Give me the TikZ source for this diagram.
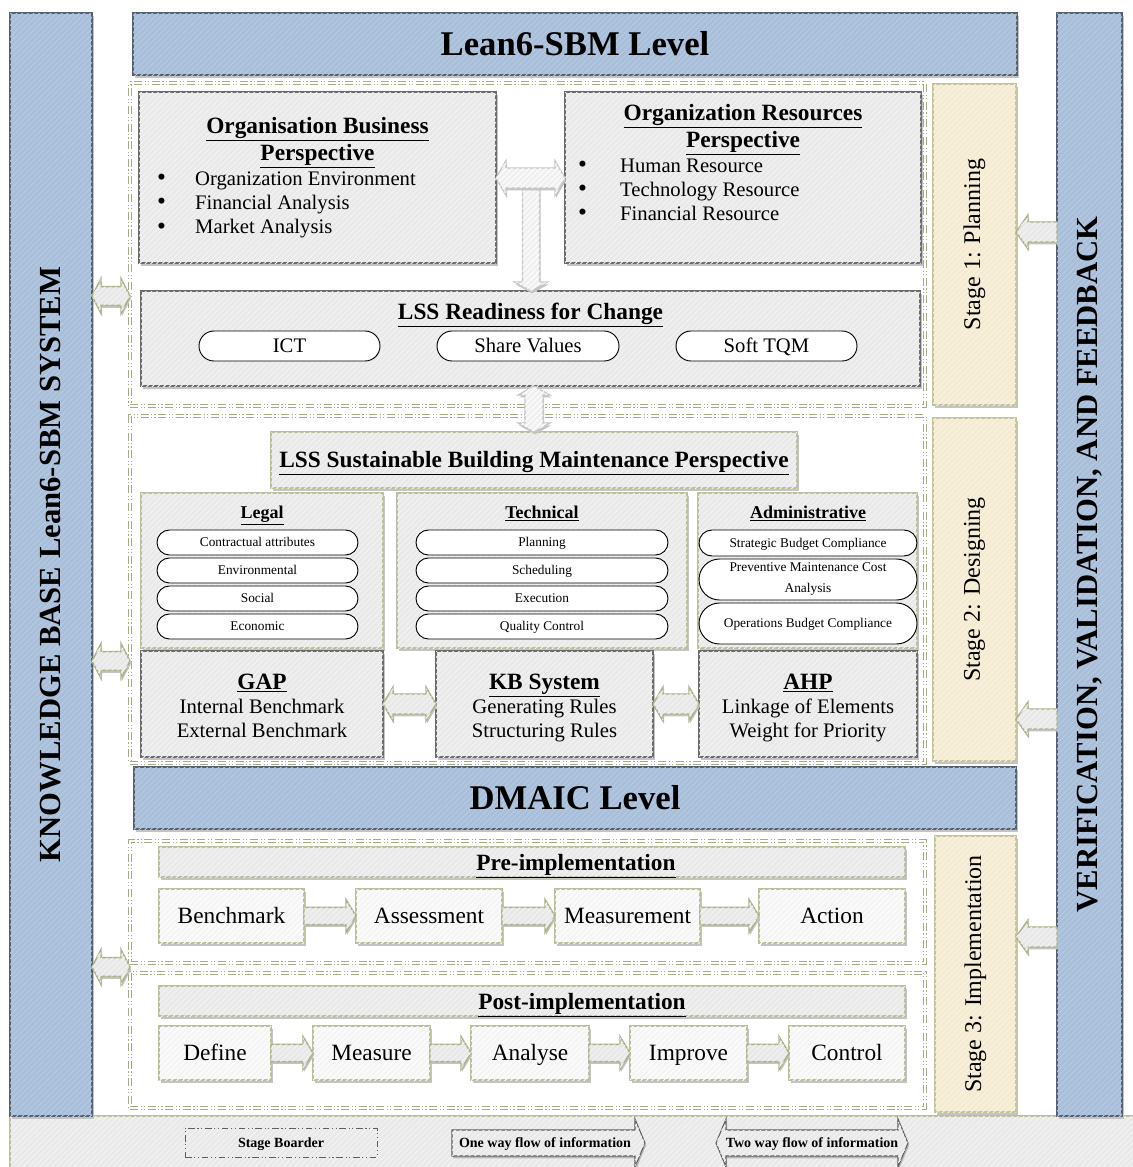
\documentclass[tikz,border=0pt]{standalone}
\usepackage{fontspec}
\setmainfont{Liberation Serif}
\usetikzlibrary{calc,shadows,patterns.meta,shapes.misc}

\definecolor{bluefill}{HTML}{A8BED9}
\definecolor{bluestripe}{HTML}{B7CBE3}
\definecolor{bluebd}{HTML}{56616D}
\definecolor{grayfill}{HTML}{E9E9E9}
\definecolor{graystripe}{HTML}{F4F4F4}
\definecolor{darkbd}{HTML}{6B6B6B}
\definecolor{olivebd}{HTML}{BDBF9C}
\definecolor{yelfill}{HTML}{F4EBD2}
\definecolor{yelstripe}{HTML}{FAF3E1}
\definecolor{yelbd}{HTML}{C3C39C}
\definecolor{stagebd}{HTML}{A7AA82}
\definecolor{arrowfill}{HTML}{E8E8E8}
\definecolor{arrowbd}{HTML}{ADB189}
\definecolor{shadowc}{HTML}{C4C4C4}
\definecolor{rowfill}{HTML}{F5F5F5}
\definecolor{legbd}{HTML}{5E5E5E}

\newcommand\fsz[2]{\fontsize{#1}{#2}\selectfont}
\newcommand\bulmark[1]{\makebox[#1][l]{\raisebox{-0.6pt}{\fsz{19}{19}\textbullet}}}

% block arrow from #2 to #3: shaft half-width #4, head half-width #5, head length #6
\newcommand\onewayarrow[6]{%
  \coordinate (owQ) at ($#3!#6!#2$);
  \path[#1] ($#2!#4!90:#3$) -- ($(owQ)!#4!90:#3$) -- ($(owQ)!#5!90:#3$) -- #3
    -- ($(owQ)!#5!-90:#3$) -- ($(owQ)!#4!-90:#3$) -- ($#2!#4!-90:#3$) -- cycle;
}
\newcommand\twowayarrow[6]{%
  \coordinate (twP) at ($#2!#6!#3$);
  \coordinate (twQ) at ($#3!#6!#2$);
  \path[#1] #2 -- ($(twP)!#5!90:#3$) -- ($(twP)!#4!90:#3$) -- ($(twQ)!#4!90:#3$)
    -- ($(twQ)!#5!90:#3$) -- #3 -- ($(twQ)!#5!-90:#3$) -- ($(twQ)!#4!-90:#3$)
    -- ($(twP)!#4!-90:#3$) -- ($(twP)!#5!-90:#3$) -- cycle;
}

\tikzset{
  % rectangle spanning the corners (#1,#2) and (#3,#4)
  box/.style n args={4}{at={({(#1+#3)/2},{(#2+#4)/2})},anchor=center,
    inner sep=0pt,outer sep=0pt,
    minimum width={(#3-#1)*0.75pt},minimum height={(#4-#2)*0.75pt}},
  % centre a single line on its capital height (#1 = cap height)
  oneline/.style={text height=#1,text depth=0pt},
  hatch/.style={postaction={pattern={Lines[angle=45,distance=3pt,line width=0.7pt]},pattern color=#1}},
  boxshadow/.style={drop shadow={shadow xshift=1.2pt,shadow yshift=-2pt,fill=shadowc,opacity=1}},
  bluebar/.style={draw=bluebd,line width=1.1pt,fill=bluefill,hatch=bluestripe,boxshadow},
  topbox/.style={draw=darkbd,line width=1.1pt,fill=grayfill,hatch=graystripe,boxshadow},
  olbox/.style={draw=olivebd,line width=1.1pt,fill=grayfill,hatch=graystripe,boxshadow},
  rowbox/.style={draw=olivebd,line width=1.1pt,fill=rowfill,hatch=white,boxshadow,font=\fsz{17.5}{20},oneline=11.6pt},
  stagebox/.style={draw=yelbd,line width=1.1pt,fill=yelfill,hatch=yelstripe,boxshadow},
  stageb/.style={draw=stagebd,line width=0.6pt,double=white,double distance=1.3pt,
    dash pattern=on 6pt off 2pt on 0.8pt off 1.6pt on 0.8pt off 2pt},
  pill/.style={rounded rectangle,draw=black,line width=0.7pt,fill=white},
  bigpill/.style={pill,font=\fsz{15.5}{18},oneline=10.2pt},
  smallpill/.style={pill,font=\fsz{10}{15.75},oneline=6.6pt},
  twolinepill/.style={pill,font=\fsz{10}{15.75},align=center},
  legpanel/.style={draw=olivebd,line width=1.1pt,fill=grayfill,hatch=graystripe},
  legrect/.style={draw=legbd,line width=0.7pt,dash pattern=on 5pt off 2pt on 0.8pt off 2pt on 0.8pt off 2pt,font=\bfseries\fsz{10.5}{12},oneline=6.9pt},
  olarrow/.style={draw=arrowbd,line width=1.1pt,fill=arrowfill,hatch=graystripe,
    drop shadow={shadow xshift=0.8pt,shadow yshift=-1.8pt,fill=shadowc,opacity=1}},
  grarrow/.style={draw=gray!45,line width=0.9pt,fill=gray!12,hatch=white,
    drop shadow={shadow xshift=0.8pt,shadow yshift=-1.8pt,fill=shadowc,opacity=1}},
  legarrow/.style={draw=legbd,line width=0.8pt,fill=grayfill,hatch=graystripe,
    drop shadow={shadow xshift=0.8pt,shadow yshift=-1.8pt,fill=gray!55,opacity=1}},
  bartitle/.style={font=\bfseries\fsz{26}{30},oneline=17.2pt},
  sidetitle/.style={font=\bfseries\fsz{23}{26},rotate=90},
  stagetext/.style={font=\fsz{18}{20},rotate=90},
  ttl/.style={anchor=base,font=\bfseries\fsz{17.5}{20}},
  subttl/.style={anchor=base,font=\bfseries\fsz{13.5}{16}},
  line/.style={anchor=base,font=\fsz{15.5}{18}},
  bul/.style={anchor=base west,font=\fsz{15.5}{18}},
  legtext/.style={font=\bfseries\fsz{10.5}{12},oneline=6.9pt},
}

\begin{document}
\begin{tikzpicture}[x=0.75pt,y=-0.75pt]
\useasboundingbox (0,0) rectangle (1132,1167);

% legend strip along the bottom
\node[legpanel,box={10}{1116}{1140}{1175}] (legend) {};

% outer bars
\node[bluebar,box={10}{13}{92}{1116}] (kbar) {};
\node[sidetitle] (kbartext) at (kbar.center) {KNOWLEDGE BASE Lean6-SBM SYSTEM};
\node[bluebar,box={1057}{13}{1122}{1116}] (vbar) {};
\node[sidetitle] (vbartext) at (vbar.center) {VERIFICATION, VALIDATION, AND FEEDBACK};
\node[bluebar,bartitle,box={133}{13}{1017}{75}] (lean) {Lean6-SBM Level};
\node[bluebar,bartitle,box={134}{767}{1016}{829}] (dmaic) {DMAIC Level};

% stage borders
\node[stageb,box={130}{83}{925}{406}] (b1) {};
\node[stageb,box={130}{416}{925}{763}] (b2) {};
\node[stageb,box={130}{841}{925}{963}] (b3a) {};
\node[stageb,box={130}{973}{925}{1108}] (b3b) {};

% stage labels
\node[stagebox,box={933}{84}{1016}{405}] (s1) {};
\node[stagetext] (s1text) at (s1.center) {Stage 1: Planning};
\node[stagebox,box={933}{418}{1016}{761}] (s2) {};
\node[stagetext] (s2text) at (s2.center) {Stage 2: Designing};
\node[stagebox,box={935}{836}{1016}{1112}] (s3) {};
\node[stagetext] (s3text) at (s3.center) {Stage 3: Implementation};

% ---- Stage 1 ----
\node[topbox,box={139}{92}{496}{263}] (obp) {};
\node[ttl] (obpt1) at (317.5,133) {\underline{Organisation Business}};
\node[ttl] (obpt2) at (317.5,160) {\underline{Perspective}};
\node[bul] (obpb1) at (152.5,185) {\bulmark{28.5pt}Organization Environment};
\node[bul] (obpb2) at (152.5,209) {\bulmark{28.5pt}Financial Analysis};
\node[bul] (obpb3) at (152.5,233.5) {\bulmark{28.5pt}Market Analysis};

\node[topbox,box={565}{92}{921}{263}] (orp) {};
\node[ttl] (orpt1) at (743,120) {\underline{Organization Resources}};
\node[ttl] (orpt2) at (743,147) {\underline{Perspective}};
\node[bul] (orpb1) at (573.5,172) {\bulmark{31.5pt}Human Resource};
\node[bul] (orpb2) at (573.5,196) {\bulmark{31.5pt}Technology Resource};
\node[bul] (orpb3) at (573.5,220) {\bulmark{31.5pt}Financial Resource};

\node[topbox,box={141}{291}{920}{386}] (ready) {};
\node[ttl] (readyt) at (530.5,319) {\underline{LSS Readiness for Change}};
\node[bigpill,box={199}{331}{380}{361}] (ict) {ICT};
\node[bigpill,box={437}{331}{619}{361}] (share) {Share Values};
\node[bigpill,box={676}{331}{857}{361}] (tqm) {Soft TQM};

% ---- Stage 2 ----
\node[olbox,box={271}{432}{797}{488}] (lssbm) {};
\node[ttl] (lssbmt) at (534,467) {\underline{LSS Sustainable Building Maintenance Perspective}};

\node[olbox,box={141}{493}{383}{648}] (legal) {};
\node[subttl] (legalt) at (262,518) {\underline{Legal}};
\node[smallpill,box={157}{530}{358}{555}] (lg1) {Contractual attributes};
\node[smallpill,box={157}{558}{358}{583}] (lg2) {Environmental};
\node[smallpill,box={157}{586}{358}{611}] (lg3) {Social};
\node[smallpill,box={157}{614}{358}{639}] (lg4) {Economic};

\node[olbox,box={397}{493}{687}{648}] (tech) {};
\node[subttl] (techt) at (542,518) {\underline{Technical}};
\node[smallpill,box={416}{530}{668}{555}] (tc1) {Planning};
\node[smallpill,box={416}{558}{668}{583}] (tc2) {Scheduling};
\node[smallpill,box={416}{586}{668}{611}] (tc3) {Execution};
\node[smallpill,box={416}{614}{668}{639}] (tc4) {Quality Control};

\node[olbox,box={698}{493}{917}{648}] (admin) {};
\node[subttl] (admint) at (808,518) {\underline{Administrative}};
\node[smallpill,box={699}{530}{917}{556}] (ad1) {Strategic Budget Compliance};
\node[twolinepill,box={699}{559}{917}{600}] (ad2) {Preventive Maintenance Cost\\Analysis};
\node[smallpill,box={699}{603}{917}{644}] (ad3) {Operations Budget Compliance};

\node[topbox,box={141}{651}{383}{757}] (gap) {};
\node[ttl] (gapt) at (262,689) {\underline{GAP}};
\node[line] (gap1) at (262,713) {Internal Benchmark};
\node[line] (gap2) at (262,737) {External Benchmark};

\node[topbox,box={436}{651}{653}{757}] (kb) {};
\node[ttl] (kbt) at (544.5,689) {\underline{KB System}};
\node[line] (kb1) at (544.5,713) {Generating Rules};
\node[line] (kb2) at (544.5,737) {Structuring Rules};

\node[topbox,box={699}{651}{917}{757}] (ahp) {};
\node[ttl] (ahpt) at (808,689) {\underline{AHP}};
\node[line] (ahp1) at (808,713) {Linkage of Elements};
\node[line] (ahp2) at (808,737) {Weight for Priority};

% ---- Stage 3 ----
\node[olbox,box={159}{847}{905}{877}] (prehead) {};
\node[ttl] (preheadt) at (576,870) {\underline{Pre-implementation}};
\node[rowbox,box={159}{889}{304}{943}] (bench) {Benchmark};
\node[rowbox,box={356}{889}{502}{943}] (assess) {Assessment};
\node[rowbox,box={555}{889}{700}{943}] (meas) {Measurement};
\node[rowbox,box={759}{889}{905}{943}] (action) {Action};

\node[olbox,box={159}{986}{905}{1016}] (posthead) {};
\node[ttl] (postheadt) at (582,1009) {\underline{Post-implementation}};
\node[rowbox,box={159}{1026}{271}{1080}] (define) {Define};
\node[rowbox,box={313}{1026}{430}{1080}] (measure) {Measure};
\node[rowbox,box={471}{1026}{589}{1080}] (analyse) {Analyse};
\node[rowbox,box={630}{1026}{747}{1080}] (improve) {Improve};
\node[rowbox,box={789}{1026}{905}{1080}] (control) {Control};

% ---- connectors ----
% stage 1 T-junction and stage 1/2 link
\coordinate (tyrow) at (0,178);
\coordinate (tl) at (obp.east |- tyrow);
\coordinate (tr) at (orp.west |- tyrow);
\coordinate (tstem) at (531,186);
\coordinate (tend) at (tstem |- ready.north);
\onewayarrow{grarrow}{(tstem)}{(tend)}{6.4pt}{12.4pt}{6.75pt}
\twowayarrow{grarrow}{(tl)}{(tr)}{7.5pt}{13.1pt}{7.5pt}
\coordinate (vtop) at (lssbm.north |- ready.south);
\twowayarrow{grarrow}{(vtop)}{(lssbm.north)}{6.75pt}{12pt}{6.75pt}

% stage 2 tools
\twowayarrow{olarrow}{(gap.east)}{(kb.west)}{7.5pt}{12.75pt}{7.5pt}
\twowayarrow{olarrow}{(kb.east)}{(ahp.west)}{7.5pt}{12.75pt}{7.5pt}

% stage 3 flows
\onewayarrow{olarrow}{(bench.east)}{(assess.west)}{6.4pt}{12.4pt}{7.5pt}
\onewayarrow{olarrow}{(assess.east)}{(meas.west)}{6.4pt}{12.4pt}{7.5pt}
\onewayarrow{olarrow}{(meas.east)}{(action.west)}{6.4pt}{12.4pt}{7.5pt}
\onewayarrow{olarrow}{(define.east)}{(measure.west)}{6.4pt}{12.4pt}{7.5pt}
\onewayarrow{olarrow}{(measure.east)}{(analyse.west)}{6.4pt}{12.4pt}{7.5pt}
\onewayarrow{olarrow}{(analyse.east)}{(improve.west)}{6.4pt}{12.4pt}{7.5pt}
\onewayarrow{olarrow}{(improve.east)}{(control.west)}{6.4pt}{12.4pt}{7.5pt}

% knowledge base links
\coordinate (yl1) at (0,296);
\coordinate (yl2) at (0,661);
\coordinate (yl3) at (0,967);
\coordinate (la1) at (kbar.east |- yl1);
\coordinate (lb1) at (b1.west |- yl1);
\coordinate (la2) at (kbar.east |- yl2);
\coordinate (lb2) at (b2.west |- yl2);
\coordinate (la3) at (kbar.east |- yl3);
\coordinate (lb3) at (b3a.west |- yl3);
\twowayarrow{olarrow}{(la1)}{(lb1)}{7.1pt}{13.1pt}{6.75pt}
\twowayarrow{olarrow}{(la2)}{(lb2)}{7.1pt}{13.1pt}{6.75pt}
\twowayarrow{olarrow}{(la3)}{(lb3)}{7.1pt}{13.1pt}{6.75pt}

% feedback links
\coordinate (yr1) at (0,232);
\coordinate (yr2) at (0,719);
\coordinate (yr3) at (0,937);
\coordinate (ra1) at (vbar.west |- yr1);
\coordinate (rb1) at (s1.east |- yr1);
\coordinate (ra2) at (vbar.west |- yr2);
\coordinate (rb2) at (s2.east |- yr2);
\coordinate (ra3) at (vbar.west |- yr3);
\coordinate (rb3) at (s3.east |- yr3);
\onewayarrow{olarrow}{(ra1)}{(rb1)}{7.5pt}{12.75pt}{9pt}
\onewayarrow{olarrow}{(ra2)}{(rb2)}{7.5pt}{12.75pt}{9pt}
\onewayarrow{olarrow}{(ra3)}{(rb3)}{7.5pt}{12.75pt}{9pt}

% ---- legend ----
\node[legrect,box={185}{1128}{377}{1157}] (legsb) {Stage Boarder};
\coordinate (lo1) at (452,1143);
\coordinate (lo2) at (645,1143);
\onewayarrow{legarrow}{(lo1)}{(lo2)}{9.75pt}{18pt}{7.5pt}
\node[legtext] (lotext) at (545,1143) {One way flow of information};
\coordinate (lt1) at (716,1143);
\coordinate (lt2) at (908,1143);
\twowayarrow{legarrow}{(lt1)}{(lt2)}{9.75pt}{18pt}{7.5pt}
\node[legtext] (lttext) at (812,1143) {Two way flow of information};
\end{tikzpicture}
\end{document}
